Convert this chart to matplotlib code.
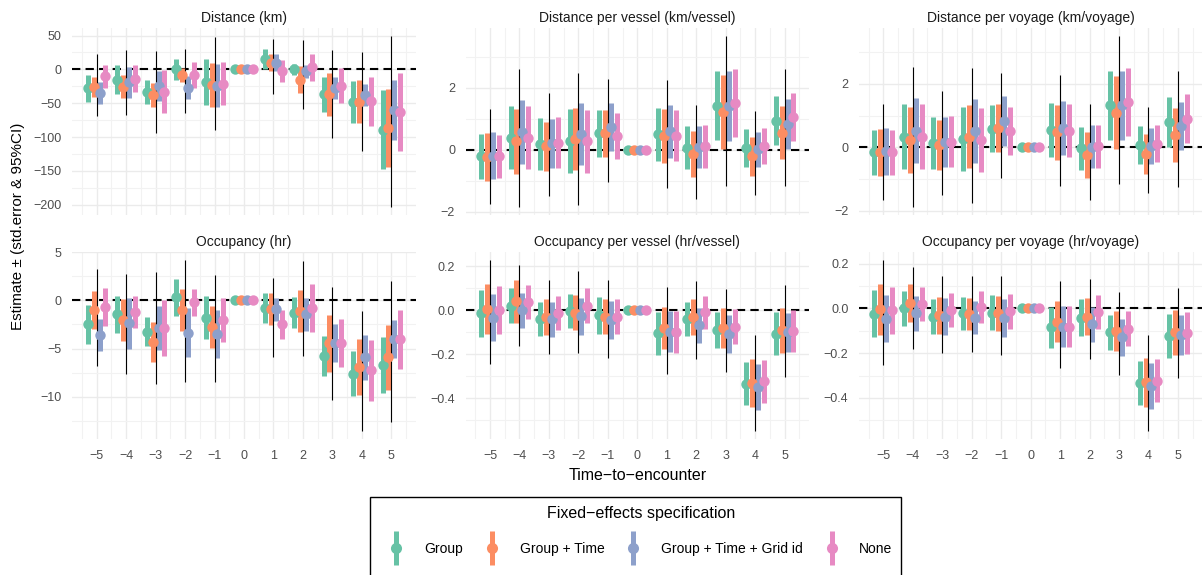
import numpy as np
import matplotlib
matplotlib.use("Agg")
import matplotlib.pyplot as plt
from matplotlib.lines import Line2D
from matplotlib.patches import Rectangle
from matplotlib.ticker import MultipleLocator, FuncFormatter
from matplotlib.legend_handler import HandlerTuple

plt.rcParams['font.family'] = ['Liberation Sans', 'DejaVu Sans']

# time-to-encounter
t = [-5, -4, -3, -2, -1, 0, 1, 2, 3, 4, 5]
specs = ["Group", "Group + Time", "Group + Time + Grid id", "None"]
colors = ["#66C2A5", "#FC8D62", "#8DA0CB", "#E78AC3"]

# Distance (km)
dist_est = {
    "Group": [-28, -15, -33, 0, -18, 0, 15, 0, -37, -48, -89],
    "Group + Time": [-26, -26, -38, -8, -23, 0, 10, -15, -37, -48, -87],
    "Group + Time + Grid id": [-35, -19, -25, -27, -24, 0, 10, -3, -28, -38, -60],
    "None": [-10, -14, -33, -8, -21, 0, -2, 3, -24, -47, -63],
}
dist_err = {
    "Group": [20, 21, 18, 15, 34, 0, 15, 8, 26, 31, 58],
    "Group + Time": [15, 17, 18, 10, 32, 0, 12, 20, 32, 32, 58],
    "Group + Time + Grid id": [16, 23, 22, 17, 32, 0, 12, 10, 16, 16, 45],
    "None": [17, 20, 32, 19, 32, 0, 16, 20, 26, 36, 57],
}
dist_ci_lo = [-69, -67, -94, -64, -90, 0, -37, -58, -101, -120, -203]
dist_ci_hi = [22, 29, 27, 30, 48, 0, 45, 44, 28, 25, 49]

# Distance per vessel
dves_est = {
    "Group": [-0.21, 0.39, 0.18, 0.27, 0.53, 0, 0.50, 0.07, 1.42, 0.07, 0.94],
    "Group + Time": [-0.24, 0.27, 0.11, 0.34, 0.53, 0, 0.45, -0.14, 1.22, -0.21, 0.55],
    "Group + Time + Grid id": [-0.19, 0.58, 0.21, 0.50, 0.74, 0, 0.60, 0.10, 1.42, 0.02, 0.84],
    "None": [-0.21, 0.39, 0.23, 0.27, 0.45, 0, 0.45, 0.11, 1.50, 0.13, 1.05],
}
dves_err = {
    "Group": [0.72, 1.02, 0.84, 1.03, 0.75, 0, 0.85, 0.69, 1.11, 0.61, 0.78],
    "Group + Time": [0.77, 1.06, 0.80, 1.00, 0.76, 0, 0.87, 0.74, 1.20, 0.64, 0.86],
    "Group + Time + Grid id": [0.76, 1.02, 0.80, 1.00, 0.77, 0, 0.85, 0.67, 1.12, 0.56, 0.80],
    "None": [0.70, 1.02, 0.82, 1.02, 0.75, 0, 0.82, 0.69, 1.10, 0.58, 0.78],
}
dves_ci_lo = [-1.73, -1.83, -1.48, -1.78, -1.04, 0, -1.22, -1.59, -1.15, -1.46, -1.15]
dves_ci_hi = [1.33, 2.60, 1.82, 2.49, 2.28, 0, 2.25, 1.45, 3.66, 1.26, 2.60]

# Distance per voyage
dvoy_est = {
    "Group": [-0.16, 0.33, 0.13, 0.26, 0.59, 0, 0.54, -0.03, 1.32, 0.08, 0.80],
    "Group + Time": [-0.16, 0.23, 0.08, 0.34, 0.62, 0, 0.47, -0.24, 1.09, -0.21, 0.38],
    "Group + Time + Grid id": [-0.13, 0.52, 0.16, 0.52, 0.83, 0, 0.62, 0.02, 1.32, 0.03, 0.67],
    "None": [-0.16, 0.33, 0.18, 0.24, 0.52, 0, 0.52, 0.03, 1.42, 0.12, 0.90],
}
dvoy_err = {
    "Group": [0.71, 1.02, 0.82, 1.02, 0.75, 0, 0.86, 0.68, 1.08, 0.60, 0.78],
    "Group + Time": [0.74, 1.05, 0.79, 1.00, 0.76, 0, 0.87, 0.72, 1.15, 0.63, 0.85],
    "Group + Time + Grid id": [0.74, 1.02, 0.79, 1.00, 0.78, 0, 0.85, 0.67, 1.08, 0.57, 0.77],
    "None": [0.70, 1.02, 0.81, 1.01, 0.75, 0, 0.84, 0.68, 1.07, 0.58, 0.77],
}
dvoy_ci_lo = [-1.66, -1.87, -1.50, -1.76, -0.98, 0, -1.22, -1.66, -1.16, -1.45, -1.26]
dvoy_ci_hi = [1.35, 2.54, 1.78, 2.49, 2.33, 0, 2.28, 1.35, 3.50, 1.26, 2.40]

# Occupancy (hr)
occ_est = {
    "Group": [-2.5, -1.47, -3.28, 0.3, -1.8, 0, -0.8, -1.3, -5.8, -7.6, -6.7],
    "Group + Time": [-1.0, -2.05, -4.3, -1.0, -2.73, 0, -0.9, -1.13, -4.44, -6.93, -5.9],
    "Group + Time + Grid id": [-3.6, -2.4, -2.9, -3.34, -3.5, 0, -0.95, -1.47, -4.44, -5.9, -4.03],
    "None": [-0.7, -1.23, -2.83, -0.2, -2.05, 0, -2.5, -0.8, -4.44, -7.27, -4.03],
}
occ_err = {
    "Group": [2.0, 1.9, 1.5, 1.94, 2.25, 0, 1.55, 1.62, 2.05, 2.35, 2.9],
    "Group + Time": [1.96, 2.15, 2.07, 2.17, 2.17, 0, 1.67, 2.17, 2.95, 2.87, 3.37],
    "Group + Time + Grid id": [1.65, 2.6, 2.27, 2.5, 2.47, 0, 1.2, 1.74, 1.96, 2.33, 2.0],
    "None": [1.96, 1.67, 2.9, 1.4, 2.25, 0, 1.5, 2.52, 2.5, 3.12, 3.07],
}
occ_ci_lo = [-6.8, -7.6, -8.63, -8.46, -8.46, 0, -5.9, -5.8, -10.34, -13.5, -12.56]
occ_ci_hi = [3.2, 2.73, 2.97, 4.16, 2.63, 0, 2.29, 4.1, 1.37, -1.06, 1.95]

# Occupancy per vessel
oves_est = {
    "Group": [-0.015, 0.021, -0.039, -0.004, -0.024, 0, -0.104, -0.039, -0.090, -0.333, -0.106],
    "Group + Time": [0.006, 0.040, -0.031, -0.012, -0.030, 0, -0.082, -0.030, -0.082, -0.330, -0.091],
    "Group + Time + Grid id": [-0.034, -0.001, -0.042, -0.027, -0.045, 0, -0.097, -0.069, -0.109, -0.348, -0.101],
    "None": [0.000, 0.036, -0.012, 0.021, -0.030, 0, -0.097, -0.009, -0.075, -0.322, -0.094],
}
oves_err = {
    "Group": [0.107, 0.078, 0.076, 0.079, 0.082, 0, 0.097, 0.078, 0.082, 0.097, 0.099],
    "Group + Time": [0.114, 0.097, 0.080, 0.080, 0.080, 0, 0.096, 0.081, 0.090, 0.110, 0.103],
    "Group + Time + Grid id": [0.107, 0.081, 0.080, 0.084, 0.086, 0, 0.093, 0.078, 0.087, 0.103, 0.090],
    "None": [0.109, 0.077, 0.076, 0.078, 0.080, 0, 0.095, 0.075, 0.080, 0.097, 0.097],
}
oves_ci_lo = [-0.243, -0.161, -0.199, -0.196, -0.218, 0, -0.288, -0.221, -0.280, -0.546, -0.303]
oves_ci_hi = [0.227, 0.204, 0.137, 0.179, 0.137, 0, 0.104, 0.133, 0.096, -0.113, 0.115]

# Occupancy per voyage
ovoy_est = {
    "Group": [-0.024, 0.000, -0.037, -0.022, -0.019, 0, -0.085, -0.041, -0.107, -0.332, -0.125],
    "Group + Time": [-0.004, 0.025, -0.031, -0.024, -0.022, 0, -0.060, -0.037, -0.100, -0.331, -0.107],
    "Group + Time + Grid id": [-0.046, -0.022, -0.037, -0.041, -0.041, 0, -0.081, -0.071, -0.129, -0.346, -0.119],
    "None": [-0.009, 0.021, -0.007, 0.007, -0.012, 0, -0.081, -0.016, -0.090, -0.324, -0.110],
}
ovoy_err = {
    "Group": [0.105, 0.077, 0.077, 0.073, 0.079, 0, 0.092, 0.081, 0.079, 0.098, 0.098],
    "Group + Time": [0.114, 0.085, 0.082, 0.072, 0.079, 0, 0.092, 0.082, 0.090, 0.110, 0.101],
    "Group + Time + Grid id": [0.105, 0.079, 0.082, 0.075, 0.085, 0, 0.090, 0.079, 0.084, 0.103, 0.090],
    "None": [0.107, 0.077, 0.077, 0.073, 0.078, 0, 0.090, 0.076, 0.077, 0.096, 0.094],
}
ovoy_ci_lo = [-0.254, -0.181, -0.199, -0.193, -0.210, 0, -0.266, -0.225, -0.296, -0.546, -0.313]
ovoy_ci_hi = [0.216, 0.187, 0.146, 0.146, 0.143, 0, 0.121, 0.131, 0.072, -0.119, 0.091]

panels = [
    ("Distance (km)", dist_est, dist_err, dist_ci_lo, dist_ci_hi, 50, "%d"),
    ("Distance per vessel (km/vessel)", dves_est, dves_err, dves_ci_lo, dves_ci_hi, 2, "%d"),
    ("Distance per voyage (km/voyage)", dvoy_est, dvoy_err, dvoy_ci_lo, dvoy_ci_hi, 2, "%d"),
    ("Occupancy (hr)", occ_est, occ_err, occ_ci_lo, occ_ci_hi, 5, "%d"),
    ("Occupancy per vessel (hr/vessel)", oves_est, oves_err, oves_ci_lo, oves_ci_hi, 0.2, "%.1f"),
    ("Occupancy per voyage (hr/voyage)", ovoy_est, ovoy_err, ovoy_ci_lo, ovoy_ci_hi, 0.2, "%.1f"),
]

W, H = 1202, 575
fig = plt.figure(figsize=(W / 100, H / 100), dpi=100)

lefts = [72.2, 465.5, 858.8]
tops = [27.7, 251.6]
pw, ph = 343.6, 187.5
offsets = [-0.3, -0.1, 0.1, 0.3]
x = np.array(t)


def fmt_func(f):
    return FuncFormatter(lambda v, p: (f % v).replace("-", "\u2212"))


for i, (title, est, err, lo, hi, step, fmt) in enumerate(panels):
    r, c = divmod(i, 3)
    ax = fig.add_axes([lefts[c] / W, 1 - (tops[r] + ph) / H, pw / W, ph / H])
    ax.axhline(0, color="black", lw=1.5, ls=(0, (4, 2.5)), zorder=1.5)
    ax.vlines(x, lo, hi, color="black", lw=0.8, zorder=3)
    for k, s in enumerate(specs):
        e = np.array(est[s])
        se = np.array(err[s])
        ax.vlines(x + offsets[k], e - se, e + se, color=colors[k], lw=3.6, zorder=2)
        ax.plot(x + offsets[k], e, "o", color=colors[k], ms=7.5, mec="none", zorder=4)
    ax.set_title(title, fontsize=10, color="#1A1A1A", pad=4)
    ax.xaxis.set_major_locator(MultipleLocator(1))
    ax.xaxis.set_minor_locator(MultipleLocator(0.5))
    ax.yaxis.set_major_locator(MultipleLocator(step))
    ax.yaxis.set_minor_locator(MultipleLocator(step / 2))
    ax.yaxis.set_major_formatter(fmt_func(fmt))
    ax.xaxis.set_major_formatter(fmt_func("%d"))
    ax.grid(True, which="major", color="#EBEBEB", lw=1.0, zorder=0)
    ax.grid(True, which="minor", color="#F2F2F2", lw=0.8, zorder=0)
    ax.set_axisbelow(True)
    for sp in ax.spines.values():
        sp.set_visible(False)
    ax.tick_params(which="both", length=0, labelsize=9, colors="#4D4D4D", pad=7.5)
    if r == 0:
        ax.tick_params(axis="x", labelbottom=False)

fig.text(18 / W, 1 - 226 / H, "Estimate \u00b1 (std.error & 95%CI)", rotation=90,
         ha="center", va="center", fontsize=11)
fig.text(638 / W, 1 - 476 / H, "Time\u2212to\u2212encounter", ha="center", va="center",
         fontsize=11.5)

# legend box runs off the bottom edge, as in the original
fig.patches.append(Rectangle((370 / W, -0.05), 531 / W, 0.05 + 78 / H,
                             transform=fig.transFigure, fill=False,
                             edgecolor="black", lw=1.0))

handles = []
for k in range(4):
    bar = Line2D([], [], marker="|", ms=24, mew=3.6, color=colors[k], ls="none")
    dot = Line2D([], [], marker="o", ms=8, mec="none", color=colors[k], ls="none")
    handles.append((bar, dot))
leg = fig.legend(handles, specs, loc="upper center", bbox_to_anchor=(641 / W, 1 - 499 / H),
                 ncol=4, title="Fixed\u2212effects specification", fontsize=10,
                 title_fontsize=11.5, frameon=False,
                 handler_map={tuple: HandlerTuple(ndivide=1)}, handlelength=1.0,
                 columnspacing=1.58, handletextpad=1.5, borderpad=0.5,
                 labelspacing=1.5, borderaxespad=0)

fig.savefig("out.png", dpi=100)
